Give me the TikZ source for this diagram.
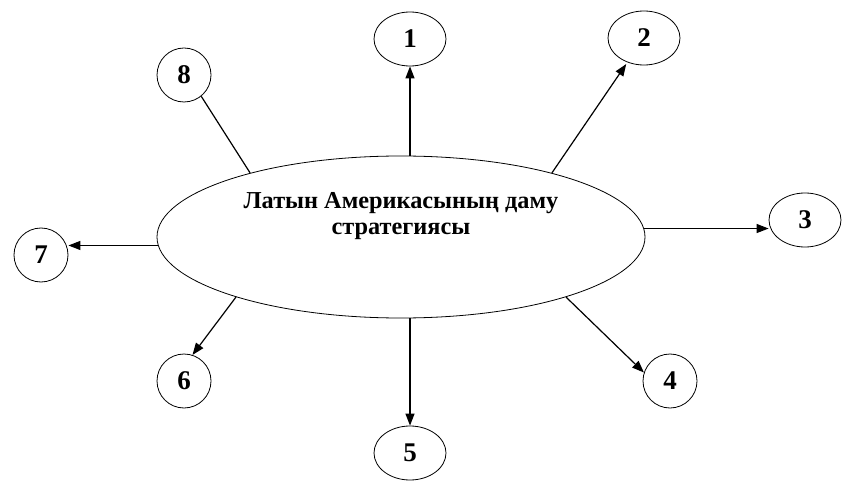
\documentclass[tikz,border=0pt]{standalone}
\usepackage{fontspec}
\setmainfont{Liberation Serif}
\usetikzlibrary{shapes.geometric,arrows.meta}
\begin{document}
\begin{tikzpicture}[x=1pt,y=-1pt,
  numell/.style={draw,line width=0.8pt,ellipse,inner sep=0pt,minimum width=72pt,minimum height=54pt,font=\fontsize{27}{27}\selectfont\bfseries},
  numcirc/.style={draw,line width=0.8pt,circle,inner sep=0pt,minimum size=54pt,font=\fontsize{27}{27}\selectfont\bfseries},
  conn/.style={line width=1.2pt},
  arr/.style={conn,-{Triangle[length=12pt,width=9pt]}}]
\useasboundingbox (0,0) rectangle (853,494);
\node[draw,line width=0.8pt,ellipse,inner sep=0pt,minimum width=488pt,minimum height=162pt] (c) at (401,237) {};
\node[inner sep=0pt,anchor=north,align=center,font=\fontsize{24.3}{26}\selectfont\bfseries] (t) at (401,192) {Латын Америкасының даму\\стратегиясы};
\node[numell] (n1) at (410,39) {1};
\node[numell] (n2) at (644,38) {2};
\node[numell] (n3) at (805,220) {3};
\node[numcirc] (n4) at (670,381) {4};
\node[numell] (n5) at (410,453) {5};
\node[numcirc] (n6) at (184,381) {6};
\node[numcirc] (n7) at (41,255) {7};
\node[numcirc] (n8) at (184,75) {8};
\draw[arr] (c.north -| n1.south) -- (n1.south);
\draw[arr,shorten >=2pt] (c.23) -- (n2);
\draw[arr] (c.2) -- (c.2 -| n3.west);
\draw[arr] (c.-20) -- (n4.162);
\draw[arr] (c.south -| n5.north) -- (n5.north);
\draw[arr] (c.200) -- (n6.72);
\draw[arr] (c.182) -- (c.182 -| n7.east);
\draw[conn] (c.157) -- (n8.-51);
\end{tikzpicture}
\end{document}
